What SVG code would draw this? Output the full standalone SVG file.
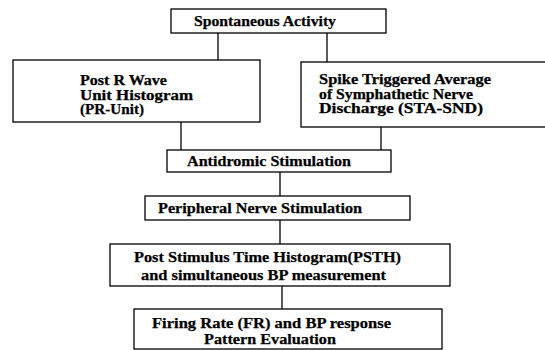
<svg xmlns="http://www.w3.org/2000/svg" width="545" height="350" viewBox="0 0 545 350">
<style>
rect{fill:#fff;stroke:#000;stroke-width:1.3}
line{stroke:#000;stroke-width:1.3}
text{font-family:"Liberation Serif","Times New Roman",serif;font-weight:bold;font-size:15.5px;fill:#000;stroke:#000;stroke-width:0.25}
.m{font-size:14px}
</style>
<rect x="0" y="0" width="545" height="350" style="stroke:none"/>
<g id="connectors">
<line x1="218" y1="33" x2="218" y2="60"/>
<line x1="327" y1="33" x2="327" y2="62"/>
<line x1="181" y1="122" x2="181" y2="150"/>
<line x1="381" y1="127" x2="381" y2="150"/>
<line x1="280" y1="172" x2="280" y2="196"/>
<line x1="280" y1="220" x2="280" y2="244"/>
<line x1="282" y1="286" x2="282" y2="309"/>
</g>
<g id="spontaneous"><rect x="171" y="9" width="215" height="24"/><text x="194" y="26" textLength="142" lengthAdjust="spacingAndGlyphs">Spontaneous Activity</text></g>
<g id="prunit"><rect x="13" y="60" width="247" height="62"/><text class="m"><tspan x="80" y="85" textLength="87" lengthAdjust="spacingAndGlyphs">Post R Wave</tspan><tspan x="80" y="99.5" textLength="113" lengthAdjust="spacingAndGlyphs">Unit Histogram</tspan><tspan x="80" y="114" textLength="64" lengthAdjust="spacingAndGlyphs">(PR-Unit)</tspan></text></g>
<g id="stasnd"><rect x="301" y="62" width="250" height="65"/><text class="m"><tspan x="319" y="84" textLength="172" lengthAdjust="spacingAndGlyphs">Spike Triggered Average</tspan><tspan x="319" y="98.5" textLength="154" lengthAdjust="spacingAndGlyphs">of Symphathetic Nerve</tspan><tspan x="319" y="113" textLength="164" lengthAdjust="spacingAndGlyphs">Discharge (STA-SND)</tspan></text></g>
<g id="antidromic"><rect x="167" y="150" width="224" height="22"/><text x="187" y="166" textLength="164" lengthAdjust="spacingAndGlyphs">Antidromic Stimulation</text></g>
<g id="peripheral"><rect x="145" y="196" width="265" height="24"/><text x="158" y="213" textLength="204" lengthAdjust="spacingAndGlyphs">Peripheral Nerve Stimulation</text></g>
<g id="psth"><rect x="110" y="244" width="340" height="42"/><text><tspan x="134" y="262" textLength="267" lengthAdjust="spacingAndGlyphs">Post Stimulus Time Histogram(PSTH)</tspan><tspan x="141" y="280" textLength="245" lengthAdjust="spacingAndGlyphs">and simultaneous BP measurement</tspan></text></g>
<g id="firing"><rect x="134" y="309" width="308" height="40"/><text><tspan x="152" y="328" textLength="239" lengthAdjust="spacingAndGlyphs">Firing Rate (FR) and BP response</tspan><tspan x="204" y="344" textLength="132" lengthAdjust="spacingAndGlyphs">Pattern Evaluation</tspan></text></g>
</svg>
